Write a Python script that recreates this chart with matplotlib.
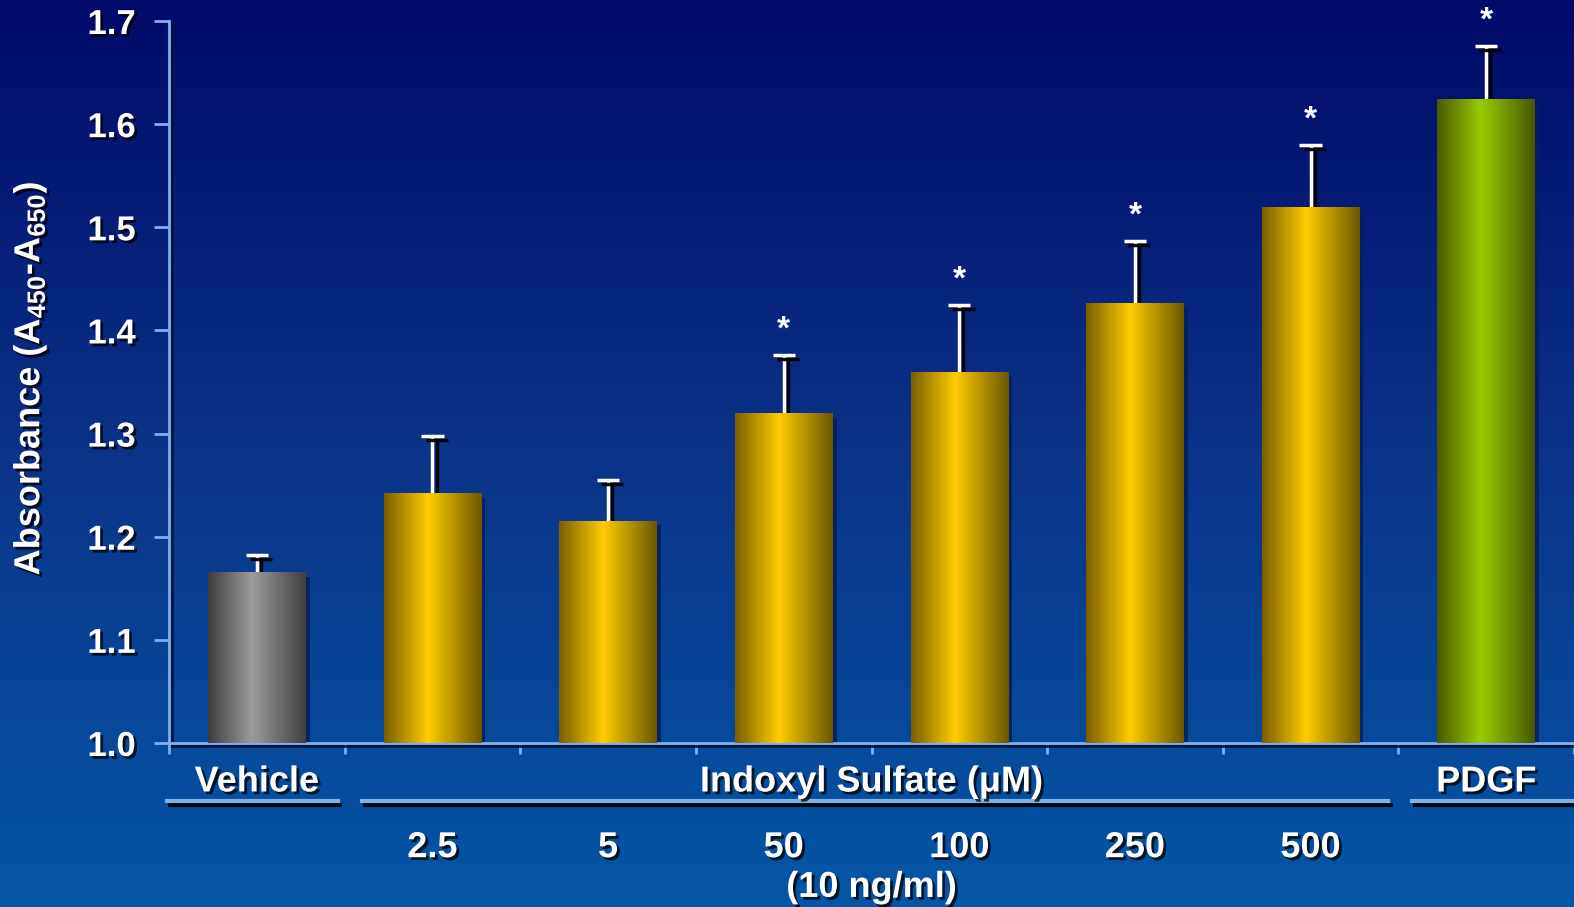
import numpy as np
import matplotlib.pyplot as plt
import matplotlib.patheffects as pe
from matplotlib.colors import LinearSegmentedColormap, to_rgb

plt.rcParams['font.family'] = ['Liberation Sans', 'DejaVu Sans']
plt.rcParams['font.weight'] = 'bold'
plt.rcParams['mathtext.fontset'] = 'custom'
plt.rcParams['mathtext.bf'] = 'Liberation Sans:bold'
plt.rcParams['mathtext.rm'] = 'Liberation Sans:bold'
plt.rcParams['mathtext.default'] = 'bf'

# Data
groups = ['Vehicle', '2.5', '5', '50', '100', '250', '500', 'PDGF']
means = [1.165, 1.242, 1.215, 1.319, 1.359, 1.426, 1.519, 1.624]
errs = [0.017, 0.056, 0.040, 0.057, 0.066, 0.061, 0.061, 0.052]
signif = [False, False, False, True, True, True, True, True]
dose_labels = ['', '2.5', '5', '50', '100', '250', '500', '']
bar_kind = ['gray', 'gold', 'gold', 'gold', 'gold', 'gold', 'gold', 'green']

grad_colors = {
    'gray': ['#3e3e3e', '#9c9c9c', '#404040'],
    'gold': ['#7a5e00', '#ffcc00', '#6e5600'],
    'green': ['#4a5a00', '#99cc00', '#475800'],
}

axis_col = '#7fb0ea'
txt_shadow = [pe.withSimplePatchShadow(offset=(2, -2), shadow_rgbFace='black', alpha=0.75)]

fig = plt.figure(figsize=(15.74, 9.07), dpi=100)

# background gradient
bg = fig.add_axes([0, 0, 1, 1], zorder=-10)
top = np.array(to_rgb('#010a68'))
mid = np.array(to_rgb('#0a3488'))
bot = np.array(to_rgb('#0556a6'))
t = np.linspace(0, 1, 256)[:, None]
grad = np.where(t < 0.5, top + (mid - top) * (t / 0.5), mid + (bot - mid) * ((t - 0.5) / 0.5))
bg.imshow(grad[:, None, :].repeat(2, axis=1), aspect='auto', extent=[0, 1, 0, 1])
bg.axis('off')

ax = fig.add_axes([0.1074, 0.1808, 0.8926, 0.796])
ax.set_facecolor('none')
ax.set_xlim(-0.5, 7.465)
ax.set_ylim(1.0, 1.7)
ymin = ax.get_ylim()[0]

x = np.arange(len(groups))
bars = ax.bar(x, means, width=0.555, color='#888888', zorder=2,
              path_effects=[pe.SimplePatchShadow(offset=(3, -3), shadow_rgbFace='#03205e', alpha=0.9), pe.Normal()])

# horizontal gradient fill for each bar
for rect, kind in zip(bars, bar_kind):
    cmap = LinearSegmentedColormap.from_list(kind, list(zip([0, 0.45, 1], grad_colors[kind])))
    gx = np.linspace(0, 1, 200)[None, :]
    y0 = max(rect.get_y(), ymin)
    ax.imshow(gx, cmap=cmap, aspect='auto', zorder=3,
              extent=[rect.get_x(), rect.get_x() + rect.get_width(), y0, rect.get_y() + rect.get_height()])

# upward-only error bars, drawn under the bar fill so the shadow stops at the bar top
err_top = np.array(means) + np.array(errs)
err_fx = [pe.SimpleLineShadow(offset=(3, -3), shadow_color='black', alpha=0.95), pe.Normal()]
ax.vlines(x, means, err_top, color='white', lw=2.5, zorder=2.5, path_effects=err_fx)
ax.plot(x, err_top, linestyle='none', marker='_', markersize=16, mew=2.5, color='white',
        zorder=2.5, path_effects=err_fx)

for xi, e, s in zip(x, err_top, signif):
    if s:
        ax.text(xi, e + 0.024, '*', color='white', fontsize=24, ha='center', va='center', zorder=5)

ax.set_xlim(-0.5, 7.465)
ax.set_ylim(1.0, 1.7)
ax.set_yticks(np.arange(1.0, 1.71, 0.1))
ax.set_yticklabels(['%.1f' % v for v in np.arange(1.0, 1.71, 0.1)])
ax.set_xticks(np.arange(-0.5, 7.6, 1.0))
ax.set_xticklabels([])
for sp in ['top', 'right']:
    ax.spines[sp].set_visible(False)
for sp in ['left', 'bottom']:
    ax.spines[sp].set_color(axis_col)
    ax.spines[sp].set_linewidth(2)
    ax.spines[sp].set_path_effects([pe.SimpleLineShadow(offset=(2, -2), shadow_color='#01103a', alpha=0.9), pe.Normal()])
ax.tick_params(axis='y', colors=axis_col, length=11, width=2, labelsize=25, labelcolor='white', pad=13)
ax.tick_params(axis='x', colors=axis_col, length=8, width=2, direction='out')
for lab in ax.get_yticklabels():
    lab.set_path_effects(txt_shadow)

trans = ax.get_xaxis_transform()
ax.text(0, -0.054, 'Vehicle', transform=trans, ha='center', va='center', color='white',
        fontsize=26, path_effects=txt_shadow)
ax.text(3.5, -0.054, 'Indoxyl Sulfate (μM)', transform=trans, ha='center', va='center', color='white',
        fontsize=26, path_effects=txt_shadow)
ax.text(7, -0.054, 'PDGF', transform=trans, ha='center', va='center', color='white',
        fontsize=26, path_effects=txt_shadow)

line_fx = [pe.SimpleLineShadow(offset=(2, -2.5), shadow_color='black', alpha=0.9), pe.Normal()]
for x0, x1 in [(-0.51, 0.46), (0.60, 6.44), (6.58, 7.5)]:
    ax.plot([x0, x1], [-0.081, -0.081], transform=trans, color=axis_col, lw=3,
            clip_on=False, path_effects=line_fx)

for xi, lab in zip(x, dose_labels):
    if lab:
        ax.text(xi, -0.145, lab, transform=trans, ha='center', va='center', color='white',
                fontsize=26, path_effects=txt_shadow)
ax.text(3.5, -0.2, '(10 ng/ml)', transform=trans, ha='center', va='center', color='white',
        fontsize=26, path_effects=txt_shadow)

fig.text(0.019, 0.583, r'Absorbance (A$_{450}$-A$_{650}$)', rotation=90, ha='center', va='center',
         color='white', fontsize=26, path_effects=txt_shadow)

fig.savefig('out.png', dpi=100)
